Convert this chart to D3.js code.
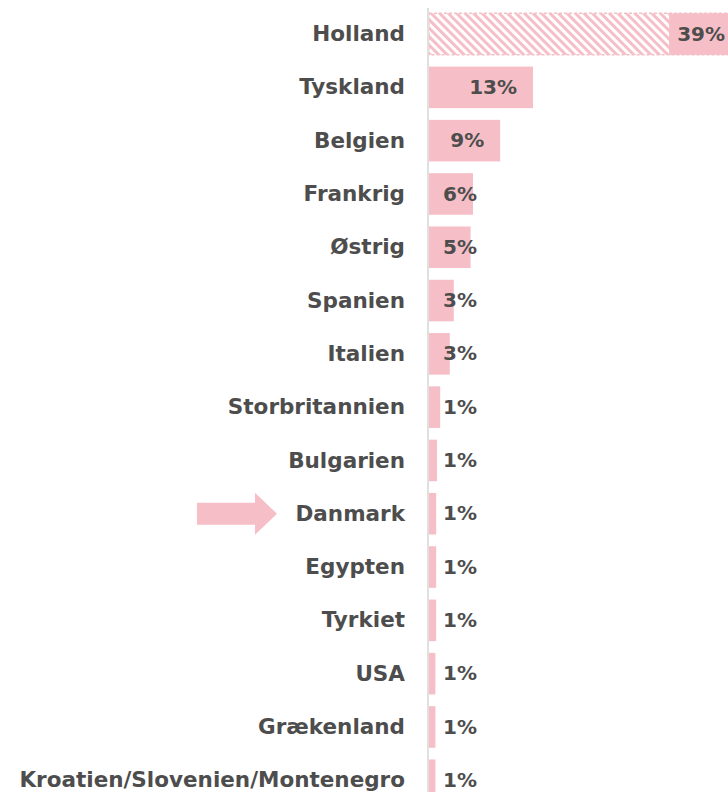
<!DOCTYPE html>
<html>
<head>
<meta charset="utf-8">
<script src="https://cdn.jsdelivr.net/npm/d3@7"></script>
<style>
	body { margin: 0; background: #fff; }
	svg text { font-family: "DejaVu Sans", sans-serif; font-weight: 700; fill: #4d4d4d; }
</style>
</head>
<body>
<div id="chart"></div>
<script>
const countries = ["Holland", "Tyskland", "Belgien", "Frankrig", "Østrig", "Spanien", "Italien",
	"Storbritannien", "Bulgarien", "Danmark", "Egypten", "Tyrkiet", "USA", "Grækenland",
	"Kroatien/Slovenien/Montenegro"];
const shares = [39.0, 13.0, 8.9, 5.5, 5.2, 3.1, 2.6, 1.4, 1.0, 0.9, 0.9, 0.9, 0.8, 0.8, 0.8];
const shareLabels = ["39%", "13%", "9%", "6%", "5%", "3%", "3%", "1%", "1%", "1%", "1%", "1%", "1%", "1%", "1%"];
const highlighted = "Danmark";
const hatched = "Holland";

const width = 728, height = 792;
const axisX = 428;
const pink = "#f6bfc7";

const data = countries.map((c, i) => ({ name: c, value: shares[i], label: shareLabels[i] }));

const svg = d3.select("#chart").append("svg")
	.attr("width", width)
	.attr("height", height);

const defs = svg.append("defs");
const pattern = defs.append("pattern")
	.attr("id", "hatch")
	.attr("patternUnits", "userSpaceOnUse")
	.attr("width", 6).attr("height", 6)
	.attr("patternTransform", "rotate(-45)");
pattern.append("rect").attr("width", 6).attr("height", 6).attr("fill", "#fff");
pattern.append("rect").attr("width", 3).attr("height", 6).attr("fill", pink);

const x = d3.scaleLinear()
	.domain([0, 13])
	.range([axisX + 1, axisX + 1 + 104]);

const y = d3.scaleBand()
	.domain(countries)
	.range([7.4, 7.4 + 53.3 * countries.length])
	.paddingInner(0.22)
	.paddingOuter(0.11);

// bars
const rows = svg.append("g").selectAll("g")
	.data(data).enter()
	.append("g");

rows.append("rect")
	.attr("x", x(0))
	.attr("y", d => y(d.name))
	.attr("width", d => x(d.value) - x(0))
	.attr("height", y.bandwidth())
	.attr("fill", d => d.name === hatched ? "url(#hatch)" : pink)
	.attr("stroke", d => d.name === hatched ? pink : "none")
	.attr("stroke-dasharray", "3,2")
	.attr("stroke-width", 1.5);

// axis line
svg.append("line")
	.attr("x1", axisX).attr("x2", axisX)
	.attr("y1", 8).attr("y2", height)
	.attr("stroke", "#e0e0e0")
	.attr("stroke-width", 2);

// category labels
svg.append("g").selectAll("text")
	.data(data).enter()
	.append("text")
	.attr("x", 405)
	.attr("y", d => y(d.name) + y.bandwidth() / 2)
	.attr("dy", "0.33em")
	.attr("text-anchor", "end")
	.style("font-size", "21.5px")
	.text(d => d.name);

// value labels
const vals = rows.append("text")
	.attr("y", d => y(d.name) + y.bandwidth() / 2)
	.attr("dy", "0.33em")
	.style("font-size", "20px")
	.text(d => d.label);

vals.each(function(d) {
	const w = this.getComputedTextLength();
	const end = Math.max(x(d.value) - 16, 443 + w);
	d3.select(this).attr("x", end - w);
	if (d.name === hatched) {
		d3.select(this.parentNode).insert("rect", "text")
			.attr("x", end - w - 8)
			.attr("y", y(d.name))
			.attr("width", x(d.value) - (end - w - 8))
			.attr("height", y.bandwidth())
			.attr("fill", pink);
	}
});

// arrow pointing at the highlighted row
const ay = y(highlighted) + y.bandwidth() / 2;
svg.append("path")
	.attr("d", `M197,${ay - 11} L255,${ay - 11} L255,${ay - 21} L277,${ay} L255,${ay + 21} L255,${ay + 11} L197,${ay + 11} Z`)
	.attr("fill", pink);
</script>
</body>
</html>
